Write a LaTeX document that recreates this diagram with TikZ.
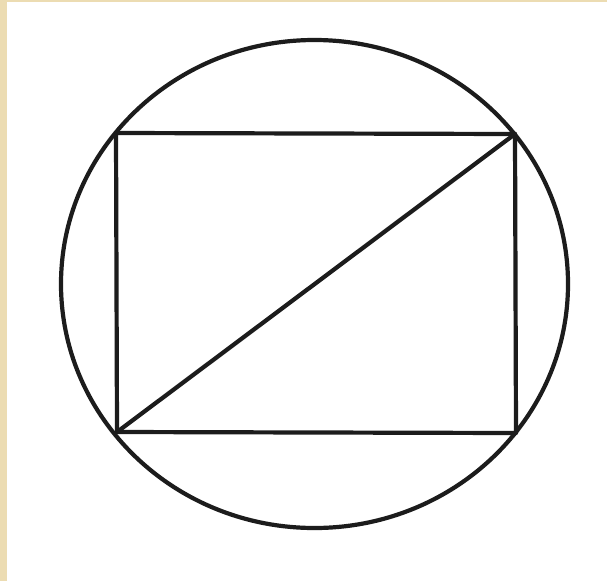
\documentclass[tikz,border=0pt]{standalone}
\definecolor{beige}{RGB}{236,220,178}
\definecolor{ink}{RGB}{28,28,28}
\begin{document}
\begin{tikzpicture}[x=1pt,y=-1pt,
  figline/.style={draw=ink,line width=4.2pt,line join=round,line cap=round}]
\useasboundingbox (0,0) rectangle (607,581);
\fill[white] (0,0) rectangle (607,581);
\fill[beige] (0,0) rectangle (7,581);
\fill[beige] (0,0) rectangle (607,2);
\coordinate (O) at (314.5,284);
\coordinate (A) at (116,133);
\coordinate (B) at (515,134);
\coordinate (C) at (516,433);
\coordinate (D) at (117,432);
\draw[figline] (O) ellipse [x radius=253.5, y radius=244];
\draw[figline] (A) -- (B) -- (C) -- (D) -- cycle;
\draw[figline] (D) -- (B);
\end{tikzpicture}
\end{document}
